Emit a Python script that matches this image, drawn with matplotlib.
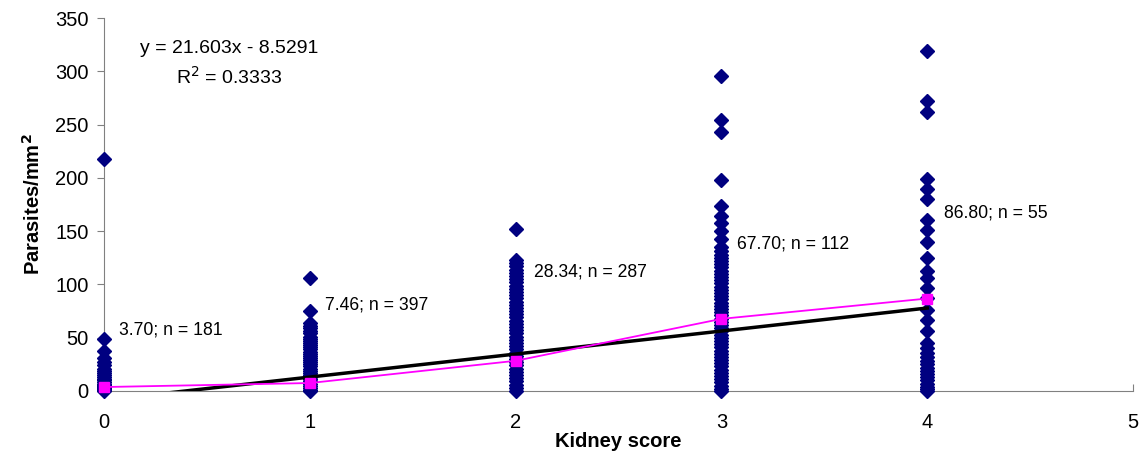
import matplotlib
matplotlib.use("Agg")
import matplotlib.pyplot as plt
import numpy as np

plt.rcParams['font.family'] = ['Liberation Sans', 'DejaVu Sans']

# Data
scores = [0, 1, 2, 3, 4]
vals0 = [218, 49, 38, 31, 27, 24, 21, 19, 17, 15, 13, 11, 10, 8, 7, 6, 5, 4, 3, 2, 1, 0]
vals1 = [106, 75, 64, 61, 59, 56, 54, 51, 49, 47, 45, 43, 41, 39, 37, 35, 33, 31, 29, 27, 25,
         23, 21, 19, 17, 15, 13, 11, 9, 7, 5, 3, 1, 0]
vals2 = [152, 123, 120, 117, 114, 111, 108, 105, 102, 99, 96, 93, 90, 87, 84, 81, 78, 75, 72,
         69, 66, 63, 60, 57, 54, 51, 48, 45, 42, 39, 36, 33, 30, 27, 24, 21, 18, 15, 12, 9, 6, 3, 0]
vals3 = [296, 254, 243, 198, 174, 164, 158, 150, 143, 135, 131, 128, 125, 122, 119, 116, 113,
         110, 107, 104, 101, 98, 95, 92, 89, 86, 83, 80, 77, 74, 71, 68, 65, 62, 59, 56, 53, 50,
         47, 44, 41, 38, 35, 32, 29, 26, 23, 20, 17, 14, 11, 8, 5, 2, 0]
vals4 = [319, 272, 262, 199, 190, 180, 161, 151, 140, 125, 113, 106, 97, 87, 76, 67, 56, 45, 40,
         36, 32, 28, 25, 22, 19, 16, 13, 10, 7, 4, 2, 0]
all_vals = [vals0, vals1, vals2, vals3, vals4]

means = [3.70, 7.46, 28.34, 67.70, 86.80]
counts = [181, 397, 287, 112, 55]
slope, intercept = 21.603, -8.5291
r2 = 0.3333

label_pos = [(0.073, 57), (1.075, 81), (2.09, 112), (3.074, 138), (4.08, 167)]

fig = plt.figure(figsize=(11.47, 4.55), dpi=100)
ax = fig.add_axes([0.0907, 0.1407, 0.8971, 0.8193])

for s, v in zip(scores, all_vals):
    ax.plot([s] * len(v), v, linestyle='none', marker='D', markersize=7.5,
            color='#000080', clip_on=False, zorder=3)

xr = np.array([0, 4])
ax.plot(xr, slope * xr + intercept, color='black', linewidth=2.5, zorder=4)

ax.plot(scores, means, color='#FF00FF', linewidth=1.3, marker='s', markersize=7,
        markerfacecolor='#FF00FF', markeredgecolor='#FF00FF', clip_on=False, zorder=5)

for (lx, ly), m, n in zip(label_pos, means, counts):
    ax.text(lx, ly, f"{m:.2f}; n = {n}", fontsize=12.7, va='center', ha='left')

ax.text(0.607, 322, f"y = {slope}x - {abs(intercept)}", fontsize=14, ha='center', va='center')
ax.text(0.61, 295, f"R$^2$ = {r2}", fontsize=14, ha='center', va='center')

ax.set_xlim(0, 5)
ax.set_ylim(0, 350)
ax.set_xticks(range(0, 6))
ax.set_yticks(range(0, 351, 50))
ax.spines['top'].set_visible(False)
ax.spines['right'].set_visible(False)
ax.spines['left'].set_color('#808080')
ax.spines['bottom'].set_color('#808080')
ax.tick_params(axis='y', direction='out', length=5, color='#808080', labelsize=14.5, pad=6)
ax.tick_params(axis='x', direction='in', length=5, color='#808080', labelsize=14.5, pad=16)

ax.set_xlabel('Kidney score', fontsize=14.5, fontweight='bold', labelpad=0)
ax.set_ylabel('Parasites/mm$^\\mathbf{2}$', fontsize=14.5, fontweight='bold', labelpad=8)

fig.savefig('out.png', dpi=100)
